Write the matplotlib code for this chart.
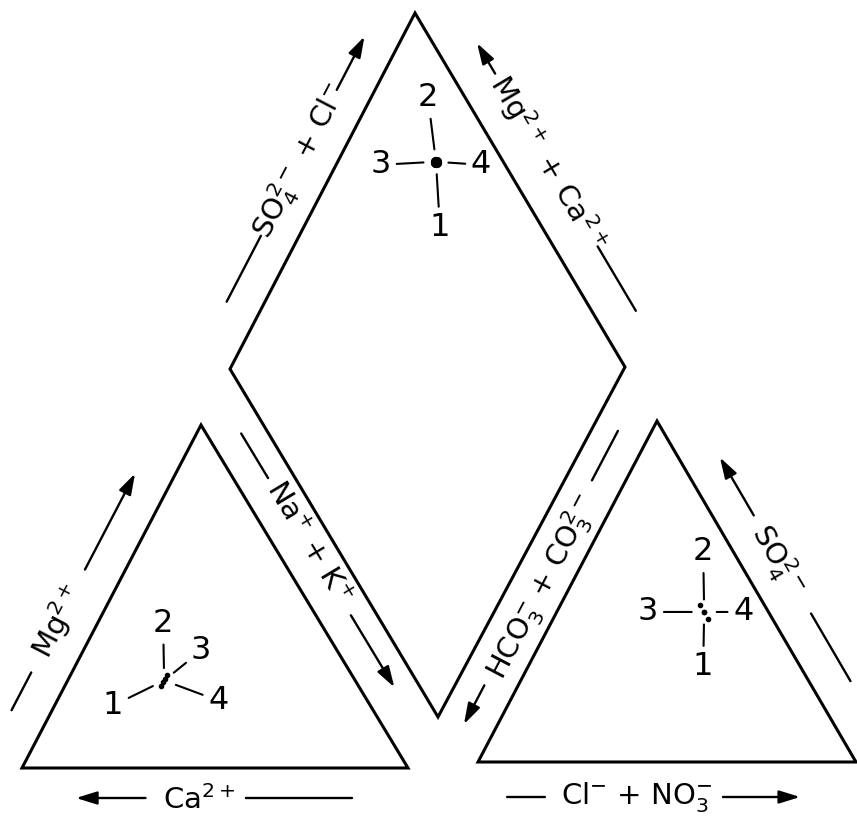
import numpy as np
import matplotlib.pyplot as plt

# four water samples, % of meq/L
samples = ['1', '2', '3', '4']
ca = [51, 48, 49, 50]
mg = [24, 27, 26, 25]
na_k = [25, 25, 25, 25]
hco3 = [17, 17, 17, 17]
so4 = [42, 46, 44, 44]
cl = [41, 37, 39, 39]

# frame corners in pixel space (hand drawn, so not quite equilateral)
cat_tri = np.array([[22, 768], [201, 425], [408, 768]])    # Ca, Mg, Na+K
an_tri = np.array([[478, 762], [657, 421], [856, 762]])    # HCO3, SO4, Cl
dia = np.array([[438, 717], [230, 369], [415, 13], [625, 367]])  # bottom, left, top, right

# number label offsets around each plotted point, pixels (x right, y up)
cat_lab = [(-51, -25), (-1, 57), (37, 30), (54, -20)]
an_lab = [(-1, -55), (-1, 60), (-56, 0), (39, 0)]
dia_lab = [(4, -66), (-8, 64), (-55, -3), (45, -3)]


def tern(tri, a, b, c):
    w = np.array([a, b, c], float)
    w = w / w.sum(axis=0)
    return w.T @ tri


def diamond(a, s):
    a = np.asarray(a, float)[:, None] / 100
    s = np.asarray(s, float)[:, None] / 100
    B, L, T, R = dia
    return (1 - a) * (1 - s) * B + a * (1 - s) * L + a * s * T + (1 - a) * s * R


fig = plt.figure(figsize=(8.57, 8.18), dpi=100)
ax = fig.add_axes([0, 0, 1, 1])
ax.set_xlim(0, 857)
ax.set_ylim(818, 0)
ax.axis('off')

for poly in (cat_tri, an_tri, dia):
    ax.add_patch(plt.Polygon(poly, closed=True, fill=False, lw=2.2,
                             ec='black', joinstyle='miter'))


def side(p, q, off_txt, off_ln, t_txt, txt, segs):
    p = np.asarray(p, float)
    q = np.asarray(q, float)
    v = q - p
    d = v / np.hypot(*v)
    n = np.array([d[1], -d[0]])
    at = lambda t, o: p + t * v + o * n
    ang = np.degrees(np.arctan2(-v[1], v[0]))
    x, y = at(t_txt, off_txt)
    ax.text(x, y, txt, rotation=ang, rotation_mode='anchor',
            ha='center', va='center', fontsize=21)
    for t0, t1, head in segs:
        a0 = at(t0, off_ln)
        a1 = at(t1, off_ln)
        style = '-|>,head_length=0.9,head_width=0.28' if head else '-'
        ax.annotate('', xy=a1, xytext=a0,
                    arrowprops=dict(arrowstyle=style, lw=1.7, color='black',
                                    shrinkA=0, shrinkB=0, mutation_scale=14))


# cation triangle
side(cat_tri[0], cat_tri[1], 36, 36, 0.38, r'Mg$^{2+}$',
     [(0.12, 0.23, False), (0.53, 0.81, True)])
side(cat_tri[0], cat_tri[2], -32, -30, 0.46, r'Ca$^{2+}$',
     [(0.32, 0.14, True), (0.58, 0.855, False)])
side(cat_tri[1], cat_tri[2], 31, 30, 0.39, r'Na$^{+}$ + K$^{+}$',
     [(0.07, 0.2, False), (0.6, 0.81, True)])

# diamond
side(dia[1], dia[2], 33, 34, 0.54, r'SO$_4^{2-}$ + Cl$^{-}$',
     [(0.145, 0.33, False), (0.74, 0.89, True)])
side(dia[2], dia[3], 38, 38, 0.478, r'Mg$^{2+}$ + Ca$^{2+}$',
     [(0.226, 0.14, True), (0.714, 0.896, False)])

# anion triangle
side(an_tri[0], an_tri[1], 24, 30, 0.48, r'HCO$_3^{-}$ + CO$_3^{2-}$',
     [(0.184, 0.07, True), (0.785, 0.93, False)])
side(an_tri[1], an_tri[2], 34, 36, 0.457, r'SO$_4^{2-}$',
     [(0.33, 0.16, True), (0.618, 0.816, False)])
side(an_tri[0], an_tri[2], -35, -35, 0.42, r'Cl$^{-}$ + NO$_3^{-}$',
     [(0.077, 0.177, False), (0.648, 0.852, True)])

cat_pts = tern(cat_tri, ca, mg, na_k)
an_pts = tern(an_tri, hco3, so4, cl)
ca_mg = np.add(ca, mg)
so4_cl = np.add(so4, cl)
dia_pts = diamond(ca_mg, so4_cl)

for pts, labs, ms in ((cat_pts, cat_lab, 3), (an_pts, an_lab, 3), (dia_pts, dia_lab, 7)):
    ax.plot(pts[:, 0], pts[:, 1], 'o', color='black', ms=ms, ls='none')
    cx, cy = pts.mean(axis=0)
    for name, off in zip(samples, labs):
        ax.annotate(name, xy=(cx, cy), xytext=off, textcoords='offset pixels',
                    ha='center', va='center', fontsize=23,
                    arrowprops=dict(arrowstyle='-', lw=1.5, color='black',
                                    shrinkA=2, shrinkB=9))

fig.savefig('out.png', dpi=100)
